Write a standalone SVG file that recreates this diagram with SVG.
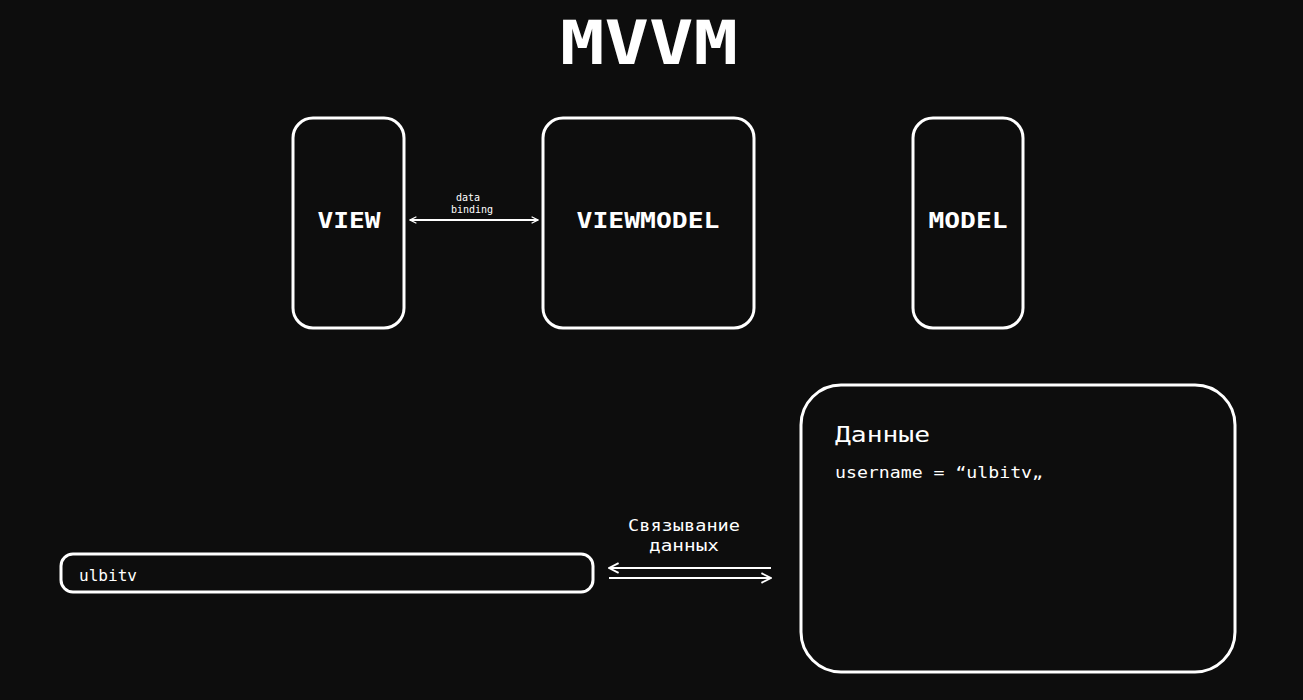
<svg xmlns="http://www.w3.org/2000/svg" width="1303" height="700" viewBox="0 0 1303 700">
<style>
.box{fill:none;stroke:#fff;stroke-width:3}
.t{fill:#fff;font-family:"DejaVu Sans Mono","Liberation Mono",monospace;font-weight:bold}
.s{fill:#fff;font-family:"DejaVu Sans Mono","Liberation Mono",monospace}
.ln{stroke:#fff;stroke-width:2;fill:none}
</style>
<defs>
<marker id="ah" viewBox="0 0 10 10" refX="9" refY="5" markerWidth="8" markerHeight="8" orient="auto-start-reverse" markerUnits="userSpaceOnUse">
<path d="M1,1 L9,5 L1,9" fill="none" stroke="#fff" stroke-width="1.6"/>
</marker>
<marker id="ah2" viewBox="0 0 10 10" refX="9" refY="5" markerWidth="12" markerHeight="12" orient="auto-start-reverse" markerUnits="userSpaceOnUse">
<path d="M1,1 L9,5 L1,9" fill="none" stroke="#fff" stroke-width="1.6"/>
</marker>
</defs>
<rect width="1303" height="700" fill="#0d0d0d"/>
<text class="t" x="649" y="64" font-size="60" text-anchor="middle" textLength="178" lengthAdjust="spacingAndGlyphs">MVVM</text>
<g id="view">
<rect class="box" x="293" y="118" width="111" height="210" rx="20"/>
<text class="t" x="349" y="228" font-size="21" text-anchor="middle" textLength="63" lengthAdjust="spacingAndGlyphs">VIEW</text>
</g>
<g id="viewmodel">
<rect class="box" x="543" y="118" width="211" height="210" rx="20"/>
<text class="t" x="648" y="228" font-size="21" text-anchor="middle" textLength="143" lengthAdjust="spacingAndGlyphs">VIEWMODEL</text>
</g>
<g id="model">
<rect class="box" x="913" y="118" width="110" height="210" rx="20"/>
<text class="t" x="968" y="228" font-size="21" text-anchor="middle" textLength="79" lengthAdjust="spacingAndGlyphs">MODEL</text>
</g>
<g id="data">
<rect class="box" x="801" y="385" width="434" height="287" rx="40"/>
<text class="s" x="835" y="442" font-size="22" textLength="95" lengthAdjust="spacingAndGlyphs">Данные</text>
<text class="s" x="835" y="478" font-size="16" textLength="208" lengthAdjust="spacingAndGlyphs">username = “ulbitv„</text>
</g>
<g id="input">
<rect class="box" x="61" y="554" width="532" height="38" rx="12"/>
<text class="s" x="79" y="581" font-size="16" textLength="58" lengthAdjust="spacingAndGlyphs">ulbitv</text>
</g>
<g id="connectors">
<line class="ln" x1="410" y1="220" x2="538" y2="220" stroke-width="1.5" marker-start="url(#ah)" marker-end="url(#ah)"/>
<text class="s" x="468" y="201" font-size="10" text-anchor="middle">data</text>
<text class="s" x="472" y="213" font-size="10" text-anchor="middle">binding</text>
<line class="ln" x1="609" y1="568" x2="771" y2="568" marker-start="url(#ah2)"/>
<line class="ln" x1="609" y1="578" x2="771" y2="578" marker-end="url(#ah2)"/>
<text class="s" x="684" y="531" font-size="15" text-anchor="middle" textLength="112" lengthAdjust="spacingAndGlyphs">Связывание</text>
<text class="s" x="684" y="551" font-size="15" text-anchor="middle" textLength="70" lengthAdjust="spacingAndGlyphs">данных</text>
</g>
</svg>
